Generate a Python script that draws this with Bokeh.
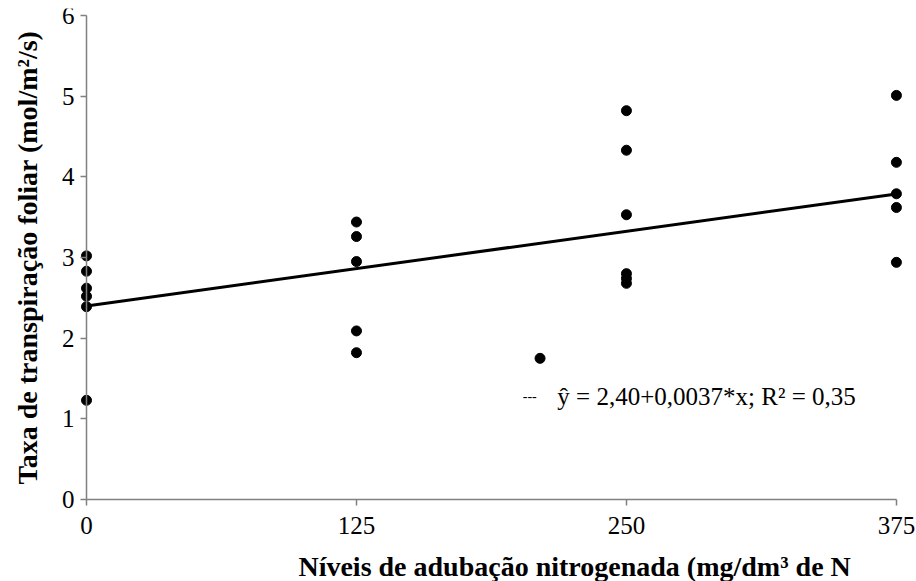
from bokeh.plotting import figure
from bokeh.models import Range1d, FixedTicker, Label
from bokeh.embed import file_html
from bokeh.resources import INLINE

# Data
x_pts = [0, 0, 0, 0, 0, 0,
         125, 125, 125, 125, 125,
         210,
         250, 250, 250, 250, 250, 250,
         375, 375, 375, 375, 375]
y_pts = [3.02, 2.83, 2.62, 2.52, 2.39, 1.23,
         3.44, 3.26, 2.95, 2.09, 1.82,
         1.75,
         4.82, 4.33, 3.53, 2.80, 2.74, 2.68,
         5.01, 4.18, 3.79, 3.62, 2.94]

intercept = 2.40
slope = 0.0037
x_fit = [0, 375]
y_fit = [intercept + slope * v for v in x_fit]

x_ticks = [0, 125, 250, 375]
y_ticks = [0, 1, 2, 3, 4, 5, 6]

x_title = "Níveis de adubação nitrogenada (mg/dm³ de N"
y_title = "Taxa de transpiração foliar (mol/m²/s)"
eq_text = "ŷ = 2,40+0,0037*x; R² = 0,35"

FONT = "Liberation Serif"

p = figure(frame_width=906, frame_height=573,
           x_range=Range1d(-35.19, 384.3), y_range=Range1d(-1.0165, 6.087),
           output_backend="svg", toolbar_location=None,
           min_border_left=10, min_border_right=0, min_border_top=8, min_border_bottom=0)
p.outline_line_color = None
p.grid.grid_line_color = None
p.background_fill_color = "white"

p.line(x_fit, y_fit, line_color="black", line_width=3)
p.scatter(x_pts, y_pts, size=10, color="black")

for ax in (p.xaxis[0], p.yaxis[0]):
    ax.axis_line_color = "#808080"
    ax.axis_line_width = 1.5
    ax.major_tick_line_color = "#808080"
    ax.major_tick_line_width = 1.5
    ax.major_tick_in = 0
    ax.major_tick_out = 6
    ax.minor_tick_line_color = None
    ax.major_label_text_font = FONT
    ax.major_label_text_font_size = "25px"
    ax.major_label_text_color = "black"
    ax.axis_label_text_font = FONT
    ax.axis_label_text_font_style = "bold"
    ax.axis_label_text_color = "black"

p.yaxis.axis_label_text_font_size = "28px"
p.xaxis.ticker = FixedTicker(ticks=x_ticks)
p.yaxis.ticker = FixedTicker(ticks=y_ticks)
p.xaxis.bounds = (0, 375)
p.yaxis.bounds = (0, 6)
p.xaxis.fixed_location = 0
p.yaxis.fixed_location = 0
p.xaxis.major_label_standoff = 11
p.yaxis.major_label_standoff = 6
p.yaxis.axis_label = y_title
p.yaxis.axis_label_standoff = 16

# x-axis title placed as in the reference (shifted right of the axis centre)
p.add_layout(Label(x=226, y=-0.83, text=x_title, text_font=FONT, text_font_size="28px",
                   text_font_style="bold", text_align="center", text_baseline="middle",
                   text_color="black"))

p.add_layout(Label(x=202, y=1.28, text="---", text_font=FONT, text_font_size="14px",
                   text_baseline="middle", text_color="black"))
p.add_layout(Label(x=218, y=1.28, text=eq_text, text_font=FONT,
                   text_font_size="25px", text_baseline="middle", text_color="black"))

open("out.html", "w").write(file_html(p, INLINE))
